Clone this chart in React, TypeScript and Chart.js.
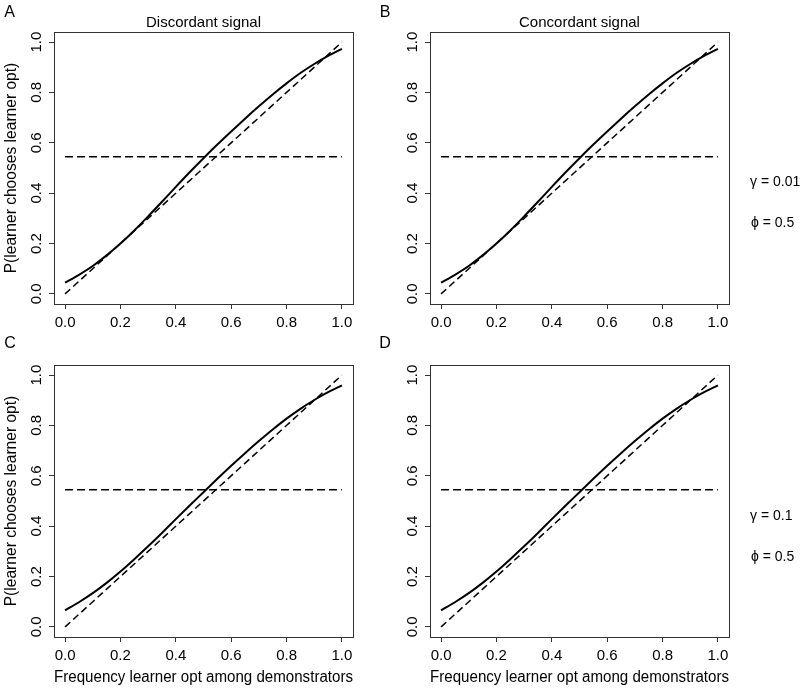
import React, { useEffect, useRef } from "react";
import { Chart, registerables } from "chart.js";

Chart.register(...registerables);

// ---------- data ----------
const X_VALUES = [0, 0.05, 0.1, 0.15, 0.2, 0.25, 0.3, 0.35, 0.4, 0.45, 0.5, 0.55, 0.6, 0.65, 0.7, 0.75, 0.8, 0.85, 0.9, 0.95, 1.0];
// gamma = 0.01 (panels A, B)
const CURVE_GAMMA_001 = [0.045, 0.076, 0.111, 0.153, 0.2, 0.252, 0.308, 0.366, 0.425, 0.483, 0.539, 0.593, 0.645, 0.696, 0.745, 0.792, 0.836, 0.877, 0.913, 0.945, 0.973];
// gamma = 0.1 (panels C, D)
const CURVE_GAMMA_01 = [0.066, 0.098, 0.134, 0.175, 0.22, 0.269, 0.32, 0.373, 0.428, 0.482, 0.535, 0.588, 0.64, 0.69, 0.738, 0.784, 0.827, 0.866, 0.901, 0.932, 0.959];
const DIAG_X = [0, 1];
const DIAG_Y = [0, 1];
const HLINE_X = [0, 1];
const HLINE_Y = [0.545, 0.545];
const X_TICKS = [0, 0.2, 0.4, 0.6, 0.8, 1.0];
const Y_TICKS = [0, 0.2, 0.4, 0.6, 0.8, 1.0];
const PANEL_TITLES = ["Discordant signal", "Concordant signal"];
const PANEL_LETTERS = ["A", "B", "C", "D"];
const Y_TITLE = "P(learner chooses learner opt)";
const X_TITLE = "Frequency learner opt among demonstrators";
const GAMMA_LABELS = ["\u03B3 = 0.01", "\u03B3 = 0.1"];
const PHI_LABELS = ["\u03D5 = 0.5", "\u03D5 = 0.5"];

const FONT = "'Liberation Sans', Arial, Helvetica, sans-serif";
const BOX_COLOR = "#333";

const boxPlugin = {
  id: "rbox",
  afterDatasetsDraw(chart: any) {
    const { ctx, chartArea } = chart;
    ctx.save();
    ctx.strokeStyle = BOX_COLOR;
    ctx.lineWidth = 1;
    ctx.strokeRect(
      Math.round(chartArea.left) + 0.5,
      Math.round(chartArea.top) + 0.5,
      Math.round(chartArea.right - chartArea.left),
      Math.round(chartArea.bottom - chartArea.top)
    );
    ctx.restore();
  },
};

type PanelProps = {
  curve: number[];
  showYTitle: boolean;
  showXTitle: boolean;
  left: number;
  top: number;
  height: number;
};

function Panel({ curve, showYTitle, showXTitle, left, top, height }: PanelProps) {
  const ref = useRef<HTMLCanvasElement | null>(null);
  useEffect(() => {
    if (!ref.current) return;
    const xAxisHeight = height - 304;
    const chart = new Chart(ref.current, {
      type: "line",
      data: {
        datasets: [
          {
            data: X_VALUES.map((x, i) => ({ x, y: curve[i] })),
            borderColor: "#000",
            borderWidth: 2,
            pointRadius: 0,
            fill: false,
            cubicInterpolationMode: "monotone",
          },
          {
            data: DIAG_X.map((x, i) => ({ x, y: DIAG_Y[i] })),
            borderColor: "#000",
            borderWidth: 1.5,
            borderDash: [7, 4],
            pointRadius: 0,
            fill: false,
          },
          {
            data: HLINE_X.map((x, i) => ({ x, y: HLINE_Y[i] })),
            borderColor: "#000",
            borderWidth: 1.5,
            borderDash: [8, 4],
            pointRadius: 0,
            fill: false,
          },
        ],
      } as any,
      options: {
        responsive: false,
        animation: false,
        events: [],
        layout: { padding: { top: 32, right: 23, bottom: 0, left: 0 } },
        plugins: {
          legend: { display: false },
          tooltip: { enabled: false },
          title: { display: false },
        },
        scales: {
          x: {
            type: "linear",
            min: -0.04,
            max: 1.04,
            afterBuildTicks: (s: any) => {
              s.ticks = X_TICKS.map((v) => ({ value: v }));
            },
            afterFit: (s: any) => {
              s.height = xAxisHeight;
            },
            grid: { drawOnChartArea: false, drawTicks: true, tickLength: 5, color: BOX_COLOR, lineWidth: 1 },
            border: { display: false },
            ticks: {
              autoSkip: false,
              maxRotation: 0,
              minRotation: 0,
              padding: 5,
              color: "#000",
              font: { family: FONT, size: 15 },
              callback: (v: any) => Number(v).toFixed(1),
            },
            title: {
              display: showXTitle,
              text: X_TITLE,
              color: "#000",
              font: { family: FONT, size: 15.6 },
              padding: { top: 0, bottom: 3 },
            },
          },
          y: {
            type: "linear",
            min: -0.04,
            max: 1.04,
            afterBuildTicks: (s: any) => {
              s.ticks = Y_TICKS.map((v) => ({ value: v }));
            },
            afterFit: (s: any) => {
              s.width = 54;
            },
            grid: { drawOnChartArea: false, drawTicks: true, tickLength: 5, color: BOX_COLOR, lineWidth: 1 },
            border: { display: false },
            ticks: {
              autoSkip: false,
              minRotation: 90,
              maxRotation: 90,
              crossAlign: "center",
              padding: 2,
              color: "#000",
              font: { family: FONT, size: 15 },
              callback: (v: any) => Number(v).toFixed(1),
            },
            title: {
              display: showYTitle,
              text: Y_TITLE,
              color: "#000",
              font: { family: FONT, size: 15.6 },
              padding: { top: 2.5, bottom: 0 },
            },
          },
        },
      } as any,
      plugins: [boxPlugin],
    });
    return () => chart.destroy();
  }, [curve, showYTitle, showXTitle, height]);

  return (
    <canvas
      ref={ref}
      width={376}
      height={height}
      style={{ position: "absolute", left, top, width: 376, height }}
    />
  );
}

function Label({ text, x, y, size = 15, align = "center" }: { text: string; x: number; y: number; size?: number; align?: "center" | "left" }) {
  return (
    <div
      style={{
        position: "absolute",
        left: x,
        top: y,
        transform: align === "center" ? "translate(-50%, -50%)" : "translate(0, -50%)",
        fontFamily: FONT,
        fontSize: size,
        lineHeight: 1,
        whiteSpace: "nowrap",
        color: "#000",
      }}
    >
      {text}
    </div>
  );
}

export default function App() {
  return (
    <div
      style={{
        position: "absolute",
        left: 0,
        top: 0,
        width: 800,
        height: 690,
        background: "#fff",
        overflow: "hidden",
      }}
    >
      <Panel curve={CURVE_GAMMA_001} showYTitle={true} showXTitle={false} left={0} top={0} height={333} />
      <Panel curve={CURVE_GAMMA_001} showYTitle={false} showXTitle={false} left={376} top={0} height={333} />
      <Panel curve={CURVE_GAMMA_01} showYTitle={true} showXTitle={true} left={0} top={333} height={357} />
      <Panel curve={CURVE_GAMMA_01} showYTitle={false} showXTitle={true} left={376} top={333} height={357} />

      <Label text={PANEL_LETTERS[0]} x={9.5} y={11.5} size={16} />
      <Label text={PANEL_LETTERS[1]} x={385} y={11.5} size={16} />
      <Label text={PANEL_LETTERS[2]} x={10} y={343} size={16} />
      <Label text={PANEL_LETTERS[3]} x={385} y={343} size={16} />

      <Label text={PANEL_TITLES[0]} x={203.5} y={20.7} />
      <Label text={PANEL_TITLES[1]} x={579.5} y={20.7} />

      <Label text={GAMMA_LABELS[0]} x={750} y={181} size={14} align="left" />
      <Label text={PHI_LABELS[0]} x={751} y={222} size={14} align="left" />
      <Label text={GAMMA_LABELS[1]} x={750} y={515} size={14} align="left" />
      <Label text={PHI_LABELS[1]} x={751} y={556} size={14} align="left" />
    </div>
  );
}
